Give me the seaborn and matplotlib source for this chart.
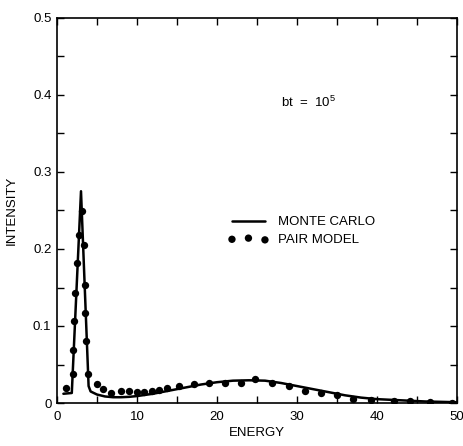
import matplotlib
matplotlib.use("Agg")
import matplotlib.pyplot as plt
import seaborn as sns
import pandas as pd
from matplotlib.ticker import MultipleLocator

# Monte Carlo curve
mc_energy = [0.8, 1.85, 3.0, 3.95, 4.2, 5, 6, 7, 8, 9, 10, 12, 14, 16, 18, 20, 22, 24,
             26, 28, 30, 32, 34, 36, 38, 40, 42, 44, 46, 48, 50]
mc_intensity = [0.012, 0.013, 0.275, 0.022, 0.015, 0.011, 0.0085, 0.0075, 0.0075, 0.008,
                0.009, 0.012, 0.016, 0.020, 0.024, 0.027, 0.029, 0.0295, 0.029, 0.026,
                0.022, 0.018, 0.014, 0.010, 0.007, 0.005, 0.004, 0.003, 0.002, 0.0015, 0.001]

# Pair model points
pm_energy = [1.1, 2.05, 2.05, 2.1, 2.25, 2.45, 2.7, 3.15, 3.35, 3.45, 3.5, 3.65, 3.9,
             5.0, 5.8, 6.8, 8.0, 9.0, 10.0, 10.9, 11.9, 12.8, 13.8, 15.2, 17.1, 19.0,
             21.05, 23.05, 24.8, 26.9, 29.0, 31.0, 33.0, 35.0, 37.05, 39.3, 42.1, 44.1,
             46.6, 49.4]
pm_intensity = [0.019, 0.038, 0.069, 0.106, 0.143, 0.182, 0.218, 0.249, 0.205, 0.153,
                0.117, 0.080, 0.038, 0.025, 0.018, 0.0125, 0.0155, 0.0155, 0.014, 0.014,
                0.0155, 0.017, 0.019, 0.022, 0.0246, 0.0255, 0.026, 0.0255, 0.031, 0.0255,
                0.022, 0.0155, 0.0133, 0.0104, 0.0048, 0.004, 0.0026, 0.0026, 0.001, 0.0005]

x_ticks = [0, 10, 20, 30, 40, 50]
x_tick_labels = ["0", "10", "20", "30", "40", "50"]
y_ticks = [0, 0.1, 0.2, 0.3, 0.4, 0.5]
y_tick_labels = ["0", "0.1", "0.2", "0.3", "0.4", "0.5"]

sns.set_theme(style="ticks")
FONT = "Liberation Sans"
plt.rcParams["font.family"] = [FONT, "DejaVu Sans"]
plt.rcParams["mathtext.fontset"] = "custom"
plt.rcParams["mathtext.rm"] = FONT
plt.rcParams["mathtext.it"] = FONT
plt.rcParams["text.color"] = "black"
plt.rcParams["axes.labelcolor"] = "black"

fig = plt.figure(figsize=(4.64, 4.46), dpi=100)
ax = fig.add_axes([57 / 464, 43 / 446, 400 / 464, 385 / 446])

mc = pd.DataFrame({"energy": mc_energy, "intensity": mc_intensity})
pm = pd.DataFrame({"energy": pm_energy, "intensity": pm_intensity})

sns.lineplot(data=mc, x="energy", y="intensity", ax=ax, color="black", linewidth=1.8,
             sort=False, estimator=None, label="MONTE CARLO")
sns.scatterplot(data=pm, x="energy", y="intensity", ax=ax, color="black", s=28,
                edgecolor="black", linewidth=0, label="PAIR MODEL")

ax.set_xlim(0, 50)
ax.set_ylim(0, 0.5)
ax.set_xticks(x_ticks)
ax.set_xticklabels(x_tick_labels)
ax.set_yticks(y_ticks)
ax.set_yticklabels(y_tick_labels)
ax.xaxis.set_minor_locator(MultipleLocator(5))
ax.yaxis.set_minor_locator(MultipleLocator(0.05))
ax.tick_params(which="both", direction="in", top=True, right=True, width=1.0,
               labelsize=9.5, color="black", labelcolor="black")
ax.tick_params(which="major", length=5)
ax.tick_params(which="minor", length=5)
ax.tick_params(axis="x", pad=6)
ax.tick_params(axis="y", pad=4)
for s in ax.spines.values():
    s.set_linewidth(1.2)
    s.set_color("black")

ax.set_xlabel("ENERGY", fontsize=9.5, labelpad=3)
ax.set_ylabel("INTENSITY", fontsize=9.5, labelpad=11)

ax.text(28.0, 0.385, r"bt  =  10$^{\mathregular{5}}$", fontsize=9.5)

ax.legend(loc="upper left", bbox_to_anchor=(171 / 400, (403 - 216) / 385),
          frameon=False, numpoints=3, scatterpoints=3, handlelength=3.1,
          handletextpad=0.7, labelspacing=0.4, fontsize=9.5, borderpad=0,
          borderaxespad=0, markerscale=1.0)

fig.savefig("out.png", dpi=100)
